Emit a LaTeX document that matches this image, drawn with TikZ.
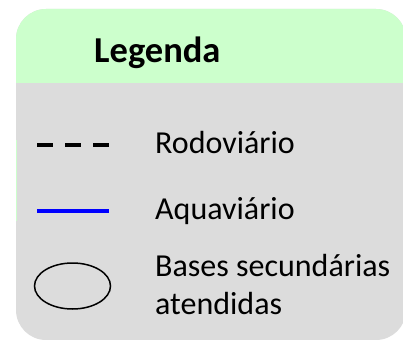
\documentclass[tikz,border=0pt]{standalone}
\usepackage{fontspec}
\setmainfont{Carlito}
\usetikzlibrary{shapes.geometric}
\definecolor{hdrgreen}{RGB}{204,255,204}
\definecolor{boxgray}{RGB}{220,220,220}
\tikzset{
  lbl/.style={anchor=base west, inner sep=0pt, font=\fontsize{32}{38}\selectfont},
  ttl/.style={anchor=base west, inner sep=0pt, font=\fontsize{36.5}{40}\selectfont\bfseries},
  roadline/.style={line width=3.5pt, dash pattern=on 16pt off 12pt},
  waterline/.style={line width=3.2pt, blue},
  baseshape/.style={draw, ellipse, line width=1.5pt, inner sep=0pt, minimum width=76pt, minimum height=46pt}
}
\begin{document}
\begin{tikzpicture}[x=1pt,y=-1pt]
\useasboundingbox (0,0) rectangle (403,339);
\begin{scope}
\clip (0,0) rectangle (403,339);
\fill[boxgray, rounded corners=30pt] (16,9) rectangle (406,340);
\begin{scope}
\clip (0,0) rectangle (403,83);
\fill[hdrgreen, rounded corners=30pt] (16,9) rectangle (406,120);
\end{scope}
\end{scope}
\draw[hdrgreen, line width=1pt] (16.5,140) -- (16.5,221);
\node[ttl] (title) at (94,63) {Legenda};
\coordinate (r1) at (37,145);
\coordinate (r2) at (109,145);
\draw[roadline] (r1) -- (r2);
\coordinate (w1) at (37,211);
\coordinate (w2) at (109,211);
\draw[waterline] (w1) -- (w2);
\node[baseshape] (base) at (72.5,286) {};
\node[lbl] (road) at (155,153) {Rodoviário};
\node[lbl] (water) at (155,219) {Aquaviário};
\node[lbl] (bases) at (155,276) {Bases secundárias};
\node[lbl] (bases2) at (155,314) {atendidas};
\end{tikzpicture}
\end{document}
